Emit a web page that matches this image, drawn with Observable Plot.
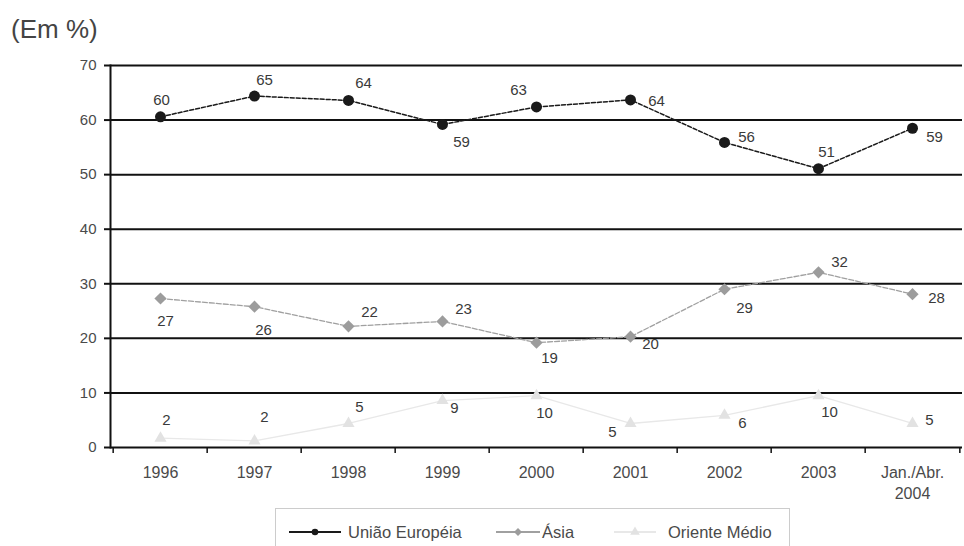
<!DOCTYPE html>
<html>
<head>
<meta charset="utf-8">
<script src="https://cdn.jsdelivr.net/npm/d3@7"></script>
<script src="https://cdn.jsdelivr.net/npm/@observablehq/plot@0.6"></script>
<style>
  body { margin:0; background:#fff; width:964px; height:546px; position:relative; overflow:hidden; font-family:"Liberation Sans", Arial, sans-serif; }
  #title { position:absolute; left:11px; top:14px; font-size:26px; color:#444; }
  #chart { position:absolute; left:0; top:0; }
  #legend { position:absolute; left:275px; top:508px; width:515px; height:45px; border:1px solid #ccc; box-sizing:border-box; background:#fff; }
</style>
</head>
<body>
<div id="chart"></div>
<div id="title">(Em %)</div>
<div id="legend"></div>
<script>
// ---- data ----
const categories = ["1996","1997","1998","1999","2000","2001","2002","2003","Jan./Abr.\n2004"];
const seriesNames = ["União Européia","Ásia","Oriente Médio"];
const ueValues   = [60.6, 64.4, 63.6, 59.2, 62.4, 63.7, 55.9, 51.1, 58.5];
const ueLabels   = ["60","65","64","59","63","64","56","51","59"];
const asiaValues = [27.3, 25.8, 22.2, 23.1, 19.2, 20.3, 29.0, 32.1, 28.1];
const asiaLabels = ["27","26","22","23","19","20","29","32","28"];
const omValues   = [1.7, 1.2, 4.4, 8.6, 9.5, 4.4, 5.9, 9.5, 4.4];
const omLabels   = ["2","2","5","9","10","5","6","10","5"];
const yTicks = [0,10,20,30,40,50,60,70];

// ---- label nudges (pixels) ----
const ueNudge   = [[1,-17],[10,-16],[15,-17],[19,18],[-18,-17],[26,1],[22,-5],[8,-16],[22,9]];
const asiaNudge = [[5,23],[9,23],[21,-14],[21,-12],[13,15],[20,7],[20,19],[21,-10],[24,4]];
const omNudge   = [[6,-18],[10,-24],[11,-16],[12,8],[8,18],[-18,9],[18,8],[11,17],[17,-3]];

const W = 964, H = 505, ML = 110, MR = 2, MT = 65, MB = 58;
const step = (W - ML - MR) / categories.length;

const styles = [
  {name: seriesNames[0], values: ueValues, labels: ueLabels, nudge: ueNudge, stroke:"#1a1a1a", fill:"#1a1a1a", symbol:"circle", r:5.5, sw:1.5, dash:"4,2"},
  {name: seriesNames[1], values: asiaValues, labels: asiaLabels, nudge: asiaNudge, stroke:"#a0a0a0", fill:"#9c9c9c", symbol:"diamond2", r:5.5, sw:1.3, dash:"5,2"},
  {name: seriesNames[2], values: omValues, labels: omLabels, nudge: omNudge, stroke:"#e8e8e8", fill:"#e2e2e2", symbol:"triangle", r:4.5, sw:1.3, dash:null}
];

const marks = [
  Plot.ruleY(yTicks, {stroke:"#111", strokeWidth:2}),
  Plot.frame({anchor:"left", stroke:"#111", strokeWidth:2}),
  Plot.axisY({ticks: yTicks, tickSize:6, tickPadding:8, stroke:"#111", strokeWidth:2, label:null, fontSize:15, fill:"#4a4a4a"}),
  Plot.axisX({tickSize:0, tickPadding:15, label:null, fontSize:16, fill:"#4a4a4a", lineHeight:1.35}),
  Plot.ruleX(categories, {x: d => d, y1: 0, y2: -1.1, dx: -step/2, stroke:"#111", strokeWidth:1.5}),
  Plot.ruleX([categories[categories.length-1]], {x: d => d, y1: 0, y2: -1.1, dx: step/2, stroke:"#111", strokeWidth:1.5})
];

for (const s of styles.slice().reverse()) {
  const rows = categories.map((c, i) => ({cat: c, value: s.values[i], label: s.labels[i], i}));
  marks.push(Plot.line(rows, {x:"cat", y:"value", stroke: s.stroke, strokeWidth: s.sw, strokeDasharray: s.dash}));
  marks.push(Plot.dot(rows, {x:"cat", y:"value", symbol: s.symbol, r: s.r, fill: s.fill, stroke:"none"}));
  rows.forEach((d, i) => {
    marks.push(Plot.text([d], {x:"cat", y:"value", text:"label", dx: s.nudge[i][0], dy: s.nudge[i][1], fontSize:15, fill:"#3a3a3a"}));
  });
}

const chart = Plot.plot({
  width: W, height: H,
  marginLeft: ML, marginRight: MR, marginTop: MT, marginBottom: MB,
  style: {fontFamily: "'Liberation Sans', Arial, sans-serif", fontSize: "15px", background: "transparent", color:"#444"},
  x: {type:"band", domain: categories, padding: 0, axis: null},
  y: {domain: [0, 70], axis: null},
  marks
});
document.getElementById("chart").appendChild(chart);

// ---- legend ----
const lg = d3.select("#legend").append("svg").attr("width", 515).attr("height", 45);
const items = [
  {x0: 13, x1: 65, tx: 72, ...styles[0]},
  {x0: 220, x1: 264, tx: 266, ...styles[1]},
  {x0: 338, x1: 380, tx: 392, ...styles[2]}
];
for (const it of items) {
  const y = 23;
  lg.append("line").attr("x1", it.x0).attr("x2", it.x1).attr("y1", y).attr("y2", y).attr("stroke", it.stroke).attr("stroke-width", 1.8);
  const sym = it.symbol === "circle" ? d3.symbolCircle : it.symbol === "diamond2" ? d3.symbolDiamond2 : d3.symbolTriangle;
  lg.append("path").attr("d", d3.symbol(sym, it.symbol === "circle" ? 34 : 40)()).attr("transform", `translate(${(it.x0+it.x1)/2},${y})`).attr("fill", it.fill);
  lg.append("text").attr("x", it.tx).attr("y", y + 6).attr("font-size", 16.5).attr("fill", "#4a4a4a").attr("font-family", "'Liberation Sans', Arial, sans-serif").text(it.name);
}
</script>
</body>
</html>
